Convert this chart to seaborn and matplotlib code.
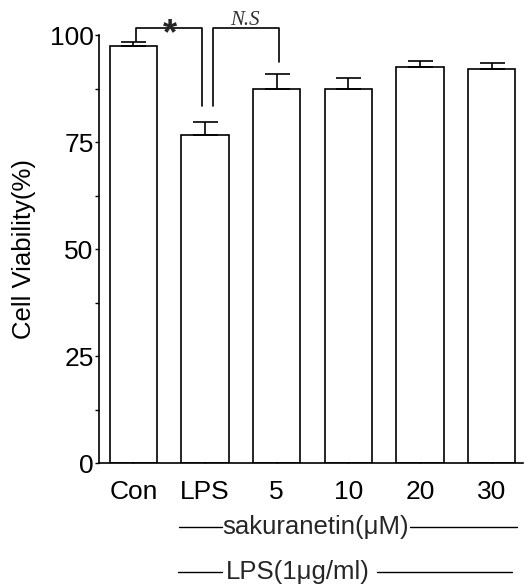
import numpy as np
import pandas as pd
import matplotlib
matplotlib.use("Agg")
import matplotlib.pyplot as plt
import seaborn as sns
from matplotlib.lines import Line2D
from matplotlib.ticker import MultipleLocator

# Values
groups = ["Con", "LPS", "5", "10", "20", "30"]
viability = [97.5, 76.7, 87.4, 87.4, 92.5, 92.1]
sem = [1.0, 2.9, 3.6, 2.5, 1.4, 1.4]

df = pd.DataFrame({"group": groups, "viability": viability})

sns.set_style("ticks")
plt.rcParams["font.family"] = ["Liberation Sans", "DejaVu Sans"]

fig = plt.figure(figsize=(5.3, 5.85), dpi=100)
ax = fig.add_axes([0.187, 0.2085, 0.80, 0.7315])

sns.barplot(data=df, x="group", y="viability", order=groups, color="white",
            edgecolor="black", linewidth=1.2, width=0.66, errorbar=None, ax=ax)
for p in ax.patches:
    p.set_facecolor("white")

x = np.arange(len(groups))
ax.errorbar(x, viability, yerr=[np.zeros(len(sem)), sem], fmt="none",
            ecolor="black", elinewidth=1.2, capsize=9, capthick=1.2)

ax.set_xlim(-0.48, 5.44)
ax.set_ylim(0, 100)
ax.set_yticks([0, 25, 50, 75, 100])
ax.yaxis.set_minor_locator(MultipleLocator(12.5))
ax.tick_params(axis="y", which="both", direction="out", length=3, width=1,
               pad=1, labelsize=19, colors="black")
ax.tick_params(axis="x", which="major", direction="in", length=6, width=1,
               pad=12, labelsize=19, colors="black")
for side in ["top", "right"]:
    ax.spines[side].set_visible(False)
for side in ["left", "bottom"]:
    ax.spines[side].set_linewidth(1.2)
    ax.spines[side].set_color("black")

ax.set_xlabel("")
ax.set_ylabel("Cell Viability(%)", fontsize=18.5, color="black")
ax.yaxis.set_label_coords(-0.15, 0.5)

# significance brackets
lw = 1.2
ax.plot([0.03, 0.03, 0.95, 0.95], [98.6, 101.7, 101.7, 83.5], color="black",
        lw=lw, clip_on=False)
ax.plot([1.11, 1.11, 2.03, 2.03], [83.5, 101.7, 101.7, 93.8], color="black",
        lw=lw, clip_on=False)
ax.text(0.51, 100.0, "*", fontsize=26, fontweight="bold", ha="center",
        va="center", clip_on=False)
ax.text(1.56, 101.2, "N.S", fontsize=15, ha="center", va="bottom",
        family=["Liberation Serif"], style="italic", color="#333333")

# treatment lines below the axis
tr = ax.get_xaxis_transform()
for xs, y in [((0.635, 1.23), -0.1495), ((3.86, 5.35), -0.1495),
              ((0.62, 1.23), -0.2547), ((3.40, 5.28), -0.2547)]:
    ax.add_line(Line2D(xs, [y, y], transform=tr, color="black", lw=1,
                       clip_on=False))
ax.text(2.54, -0.1495, "sakuranetin(\u03bcM)", transform=tr, fontsize=18.5,
        ha="center", va="center")
ax.text(2.29, -0.2547, "LPS(1\u03bcg/ml)", transform=tr, fontsize=18.5,
        ha="center", va="center")

fig.savefig("out.png", dpi=100, facecolor="white")
